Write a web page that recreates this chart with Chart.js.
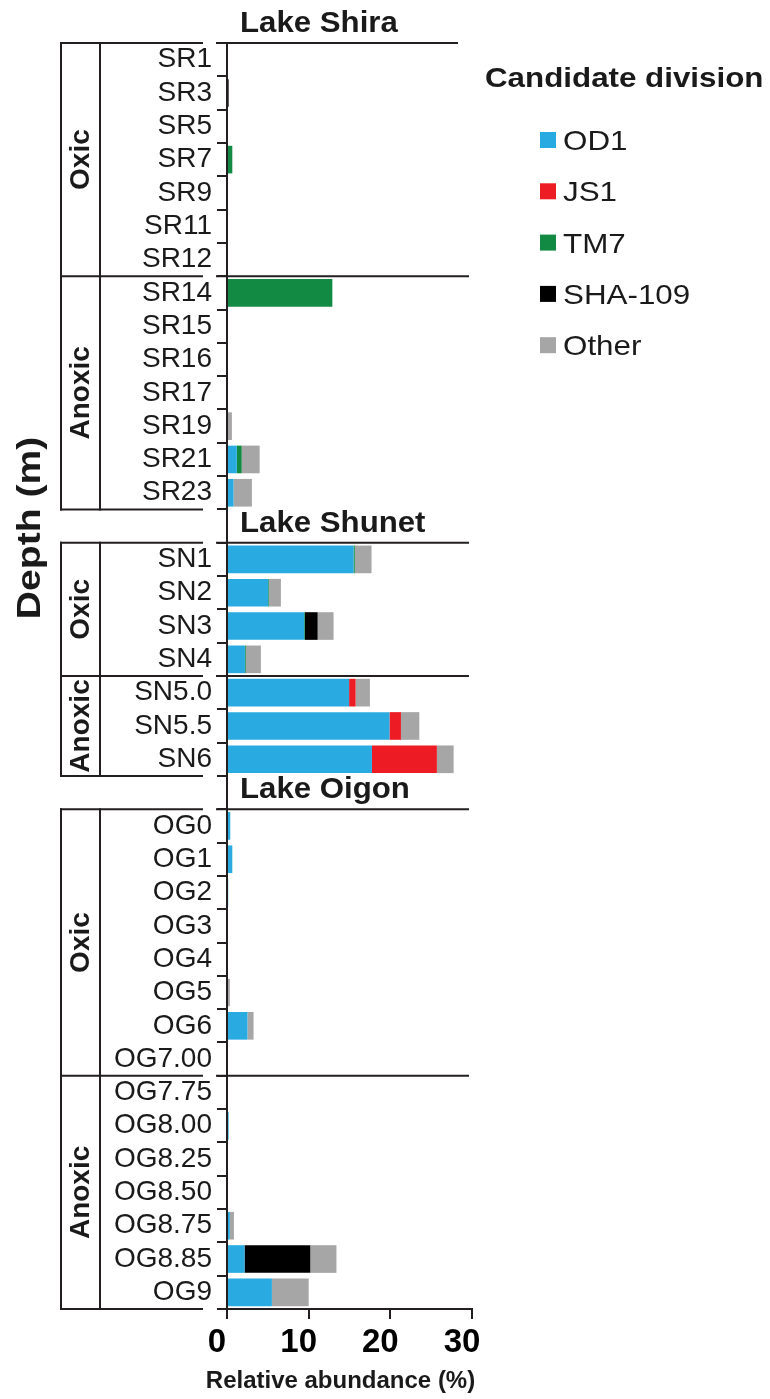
<!DOCTYPE html>
<html>
<head>
<meta charset="utf-8">
<title>Candidate divisions by depth</title>
<script src="https://cdn.jsdelivr.net/npm/chart.js@4.4.1/dist/chart.umd.min.js"></script>
<style>
  html, body { margin: 0; padding: 0; background: #fff; }
  #wrap { width: 770px; height: 1399px; }
</style>
</head>
<body>
<div id="wrap"><canvas id="myChart" width="770" height="1399"></canvas></div>
<script>
// samples, top to bottom, one list per lake
const shiraSamples = ["SR1", "SR3", "SR5", "SR7", "SR9", "SR11", "SR12", "SR14", "SR15", "SR16", "SR17", "SR19", "SR21", "SR23"];
const shunetSamples = ["SN1", "SN2", "SN3", "SN4", "SN5.0", "SN5.5", "SN6"];
const oigonSamples = ["OG0", "OG1", "OG2", "OG3", "OG4", "OG5", "OG6", "OG7.00", "OG7.75", "OG8.00", "OG8.25", "OG8.50", "OG8.75", "OG8.85", "OG9"];
const lakeNames = ["Lake Shira", "Lake Shunet", "Lake Oigon"];
const oxicRows = [7, 4, 8]; // first n samples of each lake are oxic, the rest anoxic

const divisions = ["OD1", "JS1", "TM7", "SHA-109", "Other"];
const divisionColors = ["#29abe2", "#ed1c24", "#138a43", "#000000", "#a6a6a6"];

// relative abundance (%), same order as the samples above (Shira | Shunet | Oigon)
const od1 = [0, 0, 0, 0, 0, 0, 0, 0, 0, 0, 0, 0, 1.2, 0.8,
  15.5, 5.05, 9.45, 2.2, 14.95, 19.9, 17.75,
  0.4, 0.65, 0.15, 0, 0, 0, 2.5, 0, 0, 0.2, 0, 0, 0.35, 2.15, 5.5];
const js1 = [0, 0, 0, 0, 0, 0, 0, 0, 0, 0, 0, 0, 0, 0,
  0, 0, 0, 0, 0.8, 1.4, 7.95,
  0, 0, 0, 0, 0, 0, 0, 0, 0, 0, 0, 0, 0, 0, 0];
const tm7 = [0, 0, 0, 0.65, 0, 0, 0, 12.9, 0, 0, 0, 0, 0.6, 0,
  0.15, 0.1, 0.1, 0.1, 0, 0, 0,
  0, 0, 0, 0, 0, 0, 0, 0, 0, 0, 0, 0, 0, 0, 0];
const sha109 = [0, 0.2, 0, 0, 0, 0, 0, 0, 0, 0, 0, 0, 0, 0,
  0, 0, 1.55, 0, 0, 0, 0,
  0, 0, 0, 0, 0, 0, 0, 0, 0, 0, 0, 0, 0, 8.05, 0];
const other = [0, 0, 0, 0, 0, 0, 0, 0, 0, 0, 0, 0.6, 2.2, 2.25,
  2.05, 1.45, 1.95, 1.85, 1.75, 2.25, 2.05,
  0, 0, 0, 0, 0, 0.35, 0.75, 0, 0, 0, 0, 0, 0.5, 3.2, 4.5];

const xTicks = [0, 10, 20, 30];

const FONT = "'Liberation Sans', Arial, Helvetica, sans-serif";
const INK = "#231f20";

// one blank row between lakes holds the lake title
const lakeSamples = [shiraSamples, shunetSamples, oigonSamples];
const labels = [];
const lakeStart = [];
lakeSamples.forEach((list, i) => {
  if (i > 0) labels.push("");
  lakeStart.push(labels.length);
  labels.push(...list);
});

function withGaps(values) {
  const out = [];
  let pos = 0;
  lakeSamples.forEach((list, i) => {
    if (i > 0) out.push(null);
    out.push(...values.slice(pos, pos + list.length));
    pos += list.length;
  });
  return out;
}

const seriesValues = [od1, js1, tm7, sha109, other];

function drawText(ctx, text, x, y, font, opts) {
  opts = opts || {};
  ctx.save();
  ctx.translate(x, y);
  if (opts.rotate) ctx.rotate(opts.rotate);
  ctx.scale(opts.sx || 1, 1);
  ctx.font = font;
  ctx.textAlign = opts.align || "left";
  ctx.textBaseline = opts.baseline || "middle";
  ctx.fillStyle = opts.color || "#1a1a1a";
  ctx.fillText(text, 0, 0);
  ctx.restore();
}

// brackets, lake titles, oxic/anoxic labels, legend
const panelPlugin = {
  id: "panels",
  afterDraw(chart) {
    const ctx = chart.ctx;
    const y = chart.scales.y;
    const x = chart.scales.x;
    const half = (y.getPixelForValue(1) - y.getPixelForValue(0)) / 2;
    const rowTop = (i) => y.getPixelForValue(i) - half;

    ctx.save();
    ctx.strokeStyle = INK;
    ctx.lineWidth = 2;
    const line = (x1, y1, x2, y2) => {
      ctx.beginPath();
      ctx.moveTo(x1, y1);
      ctx.lineTo(x2, y2);
      ctx.stroke();
    };

    lakeSamples.forEach((list, i) => {
      const top = rowTop(lakeStart[i]);
      const mid = rowTop(lakeStart[i] + oxicRows[i]);
      const bottom = rowTop(lakeStart[i] + list.length);

      line(61, top - 1, 61, bottom + 1);
      line(100, top - 1, 100, bottom + 1);
      [top, mid, bottom].forEach((yy) => line(60, yy, 203, yy));
      [top, mid].forEach((yy) => line(x.left - 11, yy, i === 0 && yy === top ? 458 : 469, yy));

      drawText(ctx, "Oxic", 81, (top + mid) / 2, "bold 28px " + FONT, { rotate: -Math.PI / 2, align: "center" });
      drawText(ctx, "Anoxic", 81, (mid + bottom) / 2, "bold 28px " + FONT, { rotate: -Math.PI / 2, align: "center" });
      drawText(ctx, lakeNames[i], x.left + 13, top - 11, "bold 30px " + FONT, { baseline: "alphabetic", sx: 1.04 });
    });

    drawText(ctx, "Depth (m)", 31, 528, "bold 34px " + FONT, { rotate: -Math.PI / 2, align: "center", sx: 1.15 });
    drawText(ctx, "Relative abundance (%)", x.left + x.width / 2 - 9, 1388, "bold 24px " + FONT, { align: "center", baseline: "alphabetic" });

    // legend
    drawText(ctx, "Candidate division", 485, 87, "bold 27px " + FONT, { baseline: "alphabetic", sx: 1.16 });
    chart.data.datasets.forEach((ds, i) => {
      const cy = 140 + i * 51.3;
      ctx.fillStyle = ds.backgroundColor;
      ctx.fillRect(540, cy - 8, 16, 16);
      drawText(ctx, ds.label, 563, cy + 10, "28px " + FONT, { baseline: "alphabetic", sx: 1.12 });
    });
    ctx.restore();
  },
};

const ctx = document.getElementById("myChart").getContext("2d");
const myChart = new Chart(ctx, {
  type: "bar",
  data: {
    labels: labels,
    datasets: divisions.map((name, i) => ({
      label: name,
      data: withGaps(seriesValues[i]),
      backgroundColor: divisionColors[i],
      borderWidth: 0,
      barPercentage: 0.83,
      categoryPercentage: 1,
    })),
  },
  options: {
    indexAxis: "y",
    responsive: false,
    animation: false,
    layout: { padding: { top: 43, left: 0, right: 298, bottom: 0 } },
    plugins: {
      legend: { display: false },
      tooltip: { enabled: false },
    },
    scales: {
      x: {
        stacked: true,
        min: 0,
        max: 30,
        afterBuildTicks(scale) {
          scale.ticks = xTicks.map((v) => ({ value: v }));
        },
        ticks: {
          color: "#000",
          font: { family: FONT, size: 33, weight: "bold" },
          labelOffset: -10,
          padding: 4,
        },
        grid: { drawOnChartArea: false, tickLength: 10, color: INK, lineWidth: 2 },
        border: { color: INK, width: 2 },
        afterFit(scale) {
          scale.height = 90;
        },
      },
      y: {
        stacked: true,
        ticks: {
          autoSkip: false,
          color: "#1a1a1a",
          font: { family: FONT, size: 28 },
          padding: 5,
        },
        grid: { drawOnChartArea: false, tickLength: 10, color: INK, lineWidth: 2 },
        border: { color: INK, width: 2 },
        afterFit(scale) {
          scale.width = 227;
        },
      },
    },
  },
  plugins: [panelPlugin],
});
</script>
</body>
</html>
